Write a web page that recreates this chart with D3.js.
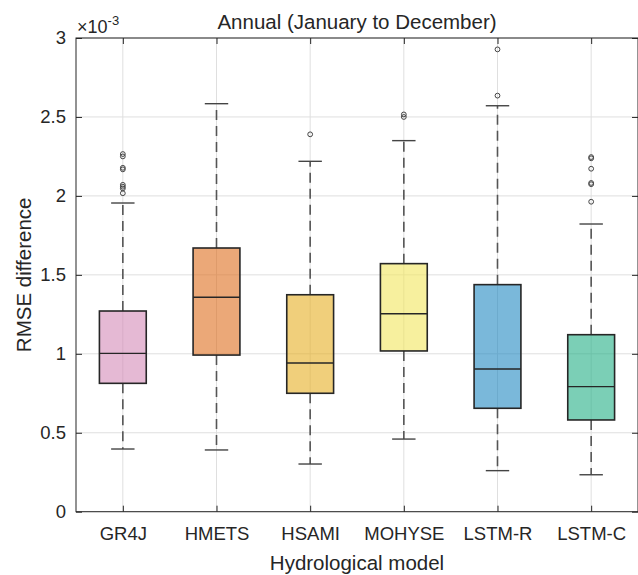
<!DOCTYPE html>
<html>
<head>
<meta charset="utf-8">
<script src="https://cdn.jsdelivr.net/npm/d3@7"></script>
<style>
  body { margin: 0; background: #fff; }
  svg text { font-family: "Liberation Sans", Arial, sans-serif; fill: #262626; }
</style>
</head>
<body>
<svg id="chart" width="638" height="575"></svg>
<script>
// values are in units of 1e-3
var models = ["GR4J", "HMETS", "HSAMI", "MOHYSE", "LSTM-R", "LSTM-C"];
var whiskerLow = [0.397, 0.391, 0.302, 0.460, 0.260, 0.234];
var quart1 = [0.813, 0.992, 0.750, 1.018, 0.655, 0.581];
var medians = [1.003, 1.358, 0.942, 1.254, 0.904, 0.792];
var quart3 = [1.271, 1.670, 1.374, 1.571, 1.438, 1.121];
var whiskerHigh = [1.955, 2.584, 2.219, 2.350, 2.571, 1.822];
var outliers = [
    [2.265, 2.250, 2.178, 2.168, 2.070, 2.058, 2.047, 2.017],
    [],
    [2.390],
    [2.516, 2.500],
    [2.635, 2.928],
    [2.246, 2.238, 2.172, 2.082, 2.074, 1.963]
];
var boxColors = ["#d38ab7", "#de6e1e", "#e6af23", "#f2e65d", "#2189c1", "#23af85"];
var yTicks = [0, 0.5, 1, 1.5, 2, 2.5, 3];

var svg = d3.select("#chart");
var margin = { left: 76, top: 38, right: 638, bottom: 511.7 };

var x = d3.scaleLinear().domain([0.5, 6.5]).range([margin.left, margin.right]);
var y = d3.scaleLinear().domain([0, 3]).range([margin.bottom, margin.top]);
var step = x(2) - x(1);
var boxW = step * 0.5;
var capW = boxW * 0.5;

// grid
var grid = svg.append("g").attr("class", "grid");
grid.selectAll("line.h")
    .data(yTicks)
    .enter().append("line")
    .attr("x1", margin.left).attr("x2", margin.right)
    .attr("y1", function (d) { return y(d); })
    .attr("y2", function (d) { return y(d); })
    .attr("stroke", "#dfdfdf").attr("stroke-width", 1);
grid.selectAll("line.v")
    .data(models)
    .enter().append("line")
    .attr("x1", function (d, i) { return x(i + 1); })
    .attr("x2", function (d, i) { return x(i + 1); })
    .attr("y1", margin.top).attr("y2", margin.bottom)
    .attr("stroke", "#dfdfdf").attr("stroke-width", 1);

// boxes
var boxes = svg.append("g")
    .selectAll("g")
    .data(models)
    .enter()
    .append("g")
    .attr("transform", function (d, i) { return "translate(" + x(i + 1) + ",0)"; });

// whiskers (dashed)
boxes.append("line")
    .attr("x1", 0).attr("x2", 0)
    .attr("y1", function (d, i) { return y(quart3[i]); })
    .attr("y2", function (d, i) { return y(whiskerHigh[i]); })
    .attr("stroke", "#555").attr("stroke-width", 1.6).attr("stroke-dasharray", "10,6");
boxes.append("line")
    .attr("x1", 0).attr("x2", 0)
    .attr("y1", function (d, i) { return y(quart1[i]); })
    .attr("y2", function (d, i) { return y(whiskerLow[i]); })
    .attr("stroke", "#555").attr("stroke-width", 1.6).attr("stroke-dasharray", "10,6");
// caps
boxes.append("line")
    .attr("x1", -capW / 2).attr("x2", capW / 2)
    .attr("y1", function (d, i) { return y(whiskerHigh[i]); })
    .attr("y2", function (d, i) { return y(whiskerHigh[i]); })
    .attr("stroke", "#444").attr("stroke-width", 1.4);
boxes.append("line")
    .attr("x1", -capW / 2).attr("x2", capW / 2)
    .attr("y1", function (d, i) { return y(whiskerLow[i]); })
    .attr("y2", function (d, i) { return y(whiskerLow[i]); })
    .attr("stroke", "#444").attr("stroke-width", 1.4);

// box body
boxes.append("rect")
    .attr("x", -boxW / 2)
    .attr("width", boxW)
    .attr("y", function (d, i) { return y(quart3[i]); })
    .attr("height", function (d, i) { return y(quart1[i]) - y(quart3[i]); })
    .attr("fill", function (d, i) { return boxColors[i]; })
    .attr("fill-opacity", 0.6)
    .attr("stroke", "#262626").attr("stroke-width", 1.6);
// median
boxes.append("line")
    .attr("x1", -boxW / 2).attr("x2", boxW / 2)
    .attr("y1", function (d, i) { return y(medians[i]); })
    .attr("y2", function (d, i) { return y(medians[i]); })
    .attr("stroke", "#262626").attr("stroke-width", 1.4);

// outliers
boxes.each(function (d, i) {
    d3.select(this).selectAll("circle")
        .data(outliers[i])
        .enter().append("circle")
        .attr("cx", 0)
        .attr("cy", function (v) { return y(v); })
        .attr("r", 2.4)
        .attr("fill", "none")
        .attr("stroke", "#444").attr("stroke-width", 1);
});

// axes frame with inward ticks
var axisColor = "#262626";
svg.append("rect")
    .attr("x", margin.left).attr("y", margin.top)
    .attr("width", margin.right - margin.left).attr("height", margin.bottom - margin.top)
    .attr("fill", "none").attr("stroke", axisColor).attr("stroke-width", 1);

var yAxis = d3.axisLeft(y).tickValues(yTicks).tickSize(-6).tickPadding(10)
    .tickFormat(function (d) { return d3.format("")(d); });
svg.append("g")
    .attr("transform", "translate(" + margin.left + ",0)")
    .call(yAxis)
    .call(function (g) {
        g.select(".domain").remove();
        g.selectAll("line").attr("stroke", axisColor);
        g.selectAll("text").attr("font-size", "18.5px").attr("fill", axisColor);
    });
svg.append("g")
    .attr("transform", "translate(" + margin.right + ",0)")
    .call(d3.axisRight(y).tickValues(yTicks).tickSize(-6).tickFormat(""))
    .call(function (g) {
        g.select(".domain").remove();
        g.selectAll("line").attr("stroke", axisColor);
    });

var xAxis = d3.axisBottom(x).tickValues(d3.range(1, 7)).tickSize(-6).tickPadding(15)
    .tickFormat(function (d) { return models[d - 1]; });
svg.append("g")
    .attr("transform", "translate(0," + margin.bottom + ")")
    .call(xAxis)
    .call(function (g) {
        g.select(".domain").remove();
        g.selectAll("line").attr("stroke", axisColor);
        g.selectAll("text").attr("font-size", "18.5px").attr("fill", axisColor);
    });
svg.append("g")
    .attr("transform", "translate(0," + margin.top + ")")
    .call(d3.axisTop(x).tickValues(d3.range(1, 7)).tickSize(-6).tickFormat(""))
    .call(function (g) {
        g.select(".domain").remove();
        g.selectAll("line").attr("stroke", axisColor);
    });

// exponent label
var expo = svg.append("text").attr("x", 77).attr("y", 33).attr("font-size", "18px");
expo.append("tspan").text("\u00d710");
expo.append("tspan").attr("dy", -8).attr("font-size", "13px").text("-3");

// title and axis labels
var midX = (margin.left + margin.right) / 2;
svg.append("text")
    .attr("x", midX).attr("y", 29)
    .attr("text-anchor", "middle").attr("font-size", "20.5px")
    .text("Annual (January to December)");
svg.append("text")
    .attr("x", midX).attr("y", 570)
    .attr("text-anchor", "middle").attr("font-size", "20.5px")
    .text("Hydrological model");
svg.append("text")
    .attr("transform", "translate(31," + ((margin.top + margin.bottom) / 2) + ") rotate(-90)")
    .attr("text-anchor", "middle").attr("font-size", "20.5px")
    .text("RMSE difference");
</script>
</body>
</html>
